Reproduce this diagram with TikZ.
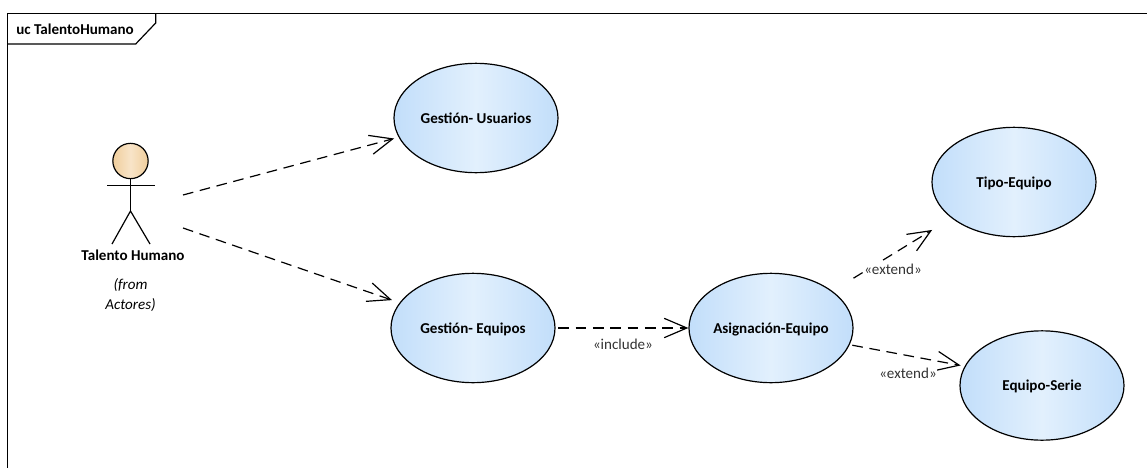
\documentclass[tikz,border=0pt]{standalone}
\usepackage{fontspec}
\setmainfont{Carlito}
\usetikzlibrary{arrows.meta,shapes.geometric}
\definecolor{caseedge}{HTML}{C2DEFA}
\definecolor{casemid}{HTML}{E2F0FD}
\definecolor{actoredge}{HTML}{F0CE9C}
\definecolor{actormid}{HTML}{F8E4C8}
\tikzset{
usecase/.style={
	  draw, ellipse, line width=0.9pt, left color=caseedge, right color=caseedge, middle color=casemid,
	    minimum width=123pt, minimum height=82pt, inner sep=0pt, text depth=0pt, font=\fontsize{11.3}{13}\selectfont\bfseries},
depend/.style={
	  dash pattern=on 8pt off 5pt, line width=0.9pt, -{Straight Barb[length=17pt,width=14.5pt,line width=0.9pt]}},
stereo/.style={font=\fontsize{11.3}{13}\selectfont, text=black!80, fill=white, inner sep=0.5pt},
limb/.style={line width=0.9pt}
}

\begin{document}
\begin{tikzpicture}[x=0.75pt, y=-0.75pt]
	\useasboundingbox (0,0) rectangle (1147,468);
	\fill[white] (0,0) rectangle (1147,468);
	% frame
	\draw[line width=0.9pt] (7.3,468) -- (7.3,13.7) -- (1147,13.7);
	\draw[line width=0.9pt] (7.3,44) -- (135.7,44) -- (155.7,23) -- (155.7,13.7);
	\node[anchor=west, inner sep=0pt, font=\fontsize{11.3}{13}\selectfont\bfseries] (frametitle) at (16,29) {uc TalentoHumano};
	% actor
	\node[circle, draw, line width=0.9pt, minimum size=26.5pt, inner sep=0pt, left color=actoredge, right color=actoredge, middle color=actormid] (head) at (130.5,161) {};
	\coordinate (hip) at (130.5,211);
	\coordinate (lhand) at (107,185.7);
	\coordinate (rhand) at (155,185.7);
	\coordinate (lfoot) at (112,244);
	\coordinate (rfoot) at (150,244);
	\draw[limb] (head) -- (hip);
	\draw[limb] (lhand) -- (rhand);
	\draw[limb] (lfoot) -- (hip) -- (rfoot);
	\node[font=\fontsize{11.3}{13}\selectfont\bfseries] (actorname) at (133,255.5) {Talento Humano};
	\node[font=\fontsize{11.3}{15.5}\selectfont\itshape, align=center] (actorfrom) at (130.5,295) {(from\\Actores)};
	\coordinate (actorup) at (183,195);
	\coordinate (actordown) at (183,228);
	% use cases
	\node[usecase] (usuarios) at (476,118) {Gestión- Usuarios};
	\node[usecase] (equipos) at (473,328) {Gestión- Equipos};
	\node[usecase] (asignacion) at (771,328) {Asignación-Equipo};
	\node[usecase] (tipo) at (1014,182) {Tipo-Equipo};
	\node[usecase] (serie) at (1042,385.5) {Equipo-Serie};
	% dependencies
	\draw[depend, shorten >=3.5pt] (actorup) -- (usuarios.194.5);
	\draw[depend, shorten >=6pt] (actordown) -- (equipos.161.6);
	\draw[depend, shorten <=2pt] (equipos.east) -- (asignacion.west);
	\draw[depend, shorten <=18.5pt, shorten >=17pt] (asignacion.31.4) -- (tipo.210.6);
	\draw[depend, shorten <=2pt, shorten >=3pt] (asignacion.348.1) -- (serie.166.5);
	\node[stereo] (extendtipo) at (893,269) {«extend»};
	\node[stereo] (extendserie) at (908,373) {«extend»};
	\node[stereo] (include) at (623,344) {«include»};
\end{tikzpicture}
\end{document}
